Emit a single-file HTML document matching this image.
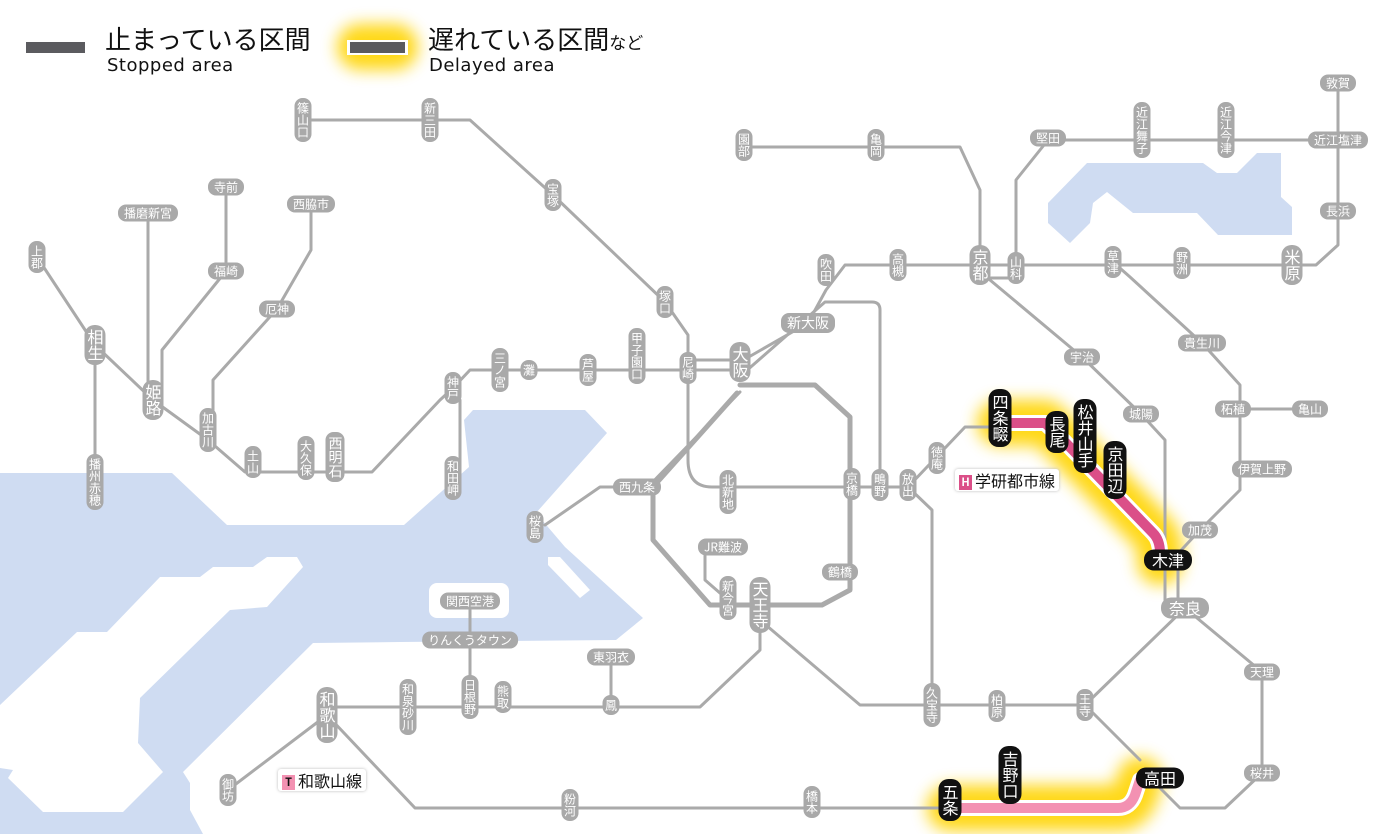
<!DOCTYPE html>
<html><head><meta charset="utf-8">
<style>
html,body{margin:0;padding:0;background:#fff;}
#w{position:relative;width:1400px;height:834px;overflow:hidden;font-family:"Liberation Sans","Noto Sans CJK JP",sans-serif;}
svg{position:absolute;left:0;top:0}
.s{position:absolute;transform:translate(-50%,-50%);background:#a9a9a9;color:#fff;font-size:12px;line-height:13px;white-space:nowrap;border-radius:8px;text-align:center;font-family:"Noto Sans CJK JP",sans-serif;}
.v{writing-mode:vertical-rl;text-orientation:upright;padding:4px 2px;}
.h{padding:2px 6px;}
.b{font-size:16px;line-height:17px;border-radius:10px;}
.k{background:#111;font-size:16px;line-height:17px;border-radius:10px;}
.k.v{padding:5px 3px}
.lg{position:absolute;font-family:"Noto Sans CJK JP",sans-serif;color:#111;white-space:nowrap}
.tag{position:absolute;background:#fff;box-shadow:0 0 3px #bbb;font-family:"Noto Sans CJK JP",sans-serif;font-size:16px;line-height:20px;padding:1px 4px;color:#111;border-radius:3px}
.tag i{display:inline-block;font-style:normal;color:#fff;font-size:11px;width:13px;height:15px;line-height:15px;text-align:center;margin-right:3px;vertical-align:1px;font-weight:bold}
</style></head><body><div id="w">
<svg width="1400" height="834" viewBox="0 0 1400 834">
<defs><filter id="bl" x="-20%" y="-20%" width="140%" height="140%"><feGaussianBlur stdDeviation="8"/></filter></defs>
<g fill="#cfdcf2">
<polygon points="0,473 172,473 227,525 404,525 469,467 464,420 473,410 585,410 607,433 536,513 565,547 643,618 616,640 400,642 313,643 183,772 190,783 190,810 203,834 0,834"/>
<polygon points="1087,163 1203,163 1217,173 1237,173 1257,153 1281,153 1281,197 1292,207 1292,235 1218,235 1197,213 1133,213 1107,192 1093,203 1090,223 1070,243 1048,223 1048,203"/>
</g>
<g fill="#fff">
<polygon points="0,705 77,632 107,632 160,577 200,577 213,567 253,567 267,557 297,557 303,567 267,607 230,610 140,698 138,743 163,772 123,812 43,812 8,778 13,770 0,768"/>
<rect x="429" y="583" width="80" height="35" rx="8"/>
<polygon points="548,557 560,557 590,590 580,598 548,565"/>
</g>
<g fill="none" stroke="#ffd400" stroke-width="46" stroke-linecap="round" stroke-linejoin="round" filter="url(#bl)" opacity="0.9">
<path d="M1000,423 H1045 L1063,440 L1153,533 Q1160,540 1160,553 V562"/>
<path d="M950,808 H1118 Q1130,808 1135,795 L1140,780"/>
<path d="M360,47 H395"/>
</g>
<g fill="none" stroke="#aaa" stroke-width="3" stroke-linejoin="round" stroke-linecap="round">
<path d="M303,120 H470 L553,195 L665,302 L688,335 V460 Q688,487 712,487 H908"/>
<path d="M37,257 L95,345 L153,400 L208,440 L245,472 H372 L440,400 L453,388 L470,370 H740"/>
<path d="M688,360 H740"/>
<path d="M453,388 L460,400 V478"/>
<path d="M95,345 V480"/>
<path d="M148,213 V400"/>
<path d="M226,187 V271 L162,350 V400"/>
<path d="M311,204 V250 L277,309 L213,380 V430"/>
<path d="M740,362 L808,323 L826,290 L845,265 H1316 L1338,245 V83"/>
<path d="M745,372 L825,302 H872 Q880,302 880,310 V487"/>
<path d="M744,147 H960 L980,190 V265"/>
<path d="M980,278 H1016"/>
<path d="M1016,268 V180 L1048,140 H1338"/>
<path d="M990,280 L1082,357 L1141,414 L1165,440 V608"/>
<path d="M1178,565 V608"/>
<path d="M1113,262 L1130,277 L1202,343 L1240,385 V490 L1200,530 L1172,560"/>
<path d="M1233,409 H1310"/>
<path d="M1185,608 L1262,672 V773 L1225,808 H1180 L1150,778"/>
<path d="M1185,608 L1085,705 L1140,760"/>
<path d="M1085,705 H860 L760,620"/>
<path d="M932,705 V510 L908,487"/>
<path d="M327,707 H700 L760,650 V605"/>
<path d="M611,657 V705"/>
<path d="M470,601 V697"/>
<path d="M327,715 L415,808 H950"/>
<path d="M327,715 L228,790"/>
<path d="M705,547 V580 L728,600"/>
<path d="M637,487 H600 L545,525"/>
<path d="M908,487 L965,427 H1000"/>
<path d="M643,492 L740,392"/>
<path d="M740,385 H815 L850,417 V590 L822,605 H710 L653,540 V487 L737,393" stroke-width="5"/>
</g>
<g fill="none" stroke-linecap="round" stroke-linejoin="round">
<path d="M1000,423 H1045 L1063,440 L1153,533 Q1160,540 1160,553 V562" stroke="#fff" stroke-width="16"/>
<path d="M1000,423 H1045 L1063,440 L1153,533 Q1160,540 1160,553 V562" stroke="#db4f88" stroke-width="10"/>
<path d="M950,808 H1118 Q1130,808 1135,795 L1140,780" stroke="#fff" stroke-width="16"/>
<path d="M950,808 H1118 Q1130,808 1135,795 L1140,780" stroke="#f391b2" stroke-width="10"/>
</g>
<rect x="26" y="42" width="59" height="11" fill="#5b5b5f"/>
<rect x="347" y="40" width="61" height="15" fill="#fff"/>
<rect x="350" y="42" width="55" height="11" fill="#5b5b5f"/>
</svg>

<div class="lg" style="left:105px;top:22px;font-size:26px;line-height:34px">止まっている区間</div>
<div class="lg" style="left:107px;top:55px;font-size:18px;line-height:21px;font-family:'DejaVu Sans',sans-serif;letter-spacing:0.5px">Stopped area</div>
<div class="lg" style="left:428px;top:22px;font-size:26px;line-height:34px">遅れている区間<span style="font-size:17px">など</span></div>
<div class="lg" style="left:429px;top:55px;font-size:18px;line-height:21px;font-family:'DejaVu Sans',sans-serif;letter-spacing:0.5px">Delayed area</div>

<div class="tag" style="left:955px;top:469px"><i style="background:#db4f88">H</i>学研都市線</div>
<div class="tag" style="left:278px;top:769px"><i style="background:#f391b2;color:#111">T</i>和歌山線</div>

<div class="s v" style="left:303px;top:120px">篠山口</div>
<div class="s v" style="left:430px;top:120px">新三田</div>
<div class="s v" style="left:553px;top:195px">宝塚</div>
<div class="s v" style="left:665px;top:302px">塚口</div>
<div class="s v" style="left:688px;top:368px">尼崎</div>
<div class="s v" style="left:637px;top:356px">甲子園口</div>
<div class="s v" style="left:588px;top:370px">芦屋</div>
<div class="s v" style="left:529px;top:370px">灘</div>
<div class="s v" style="left:500px;top:370px">三ノ宮</div>
<div class="s v" style="left:453px;top:388px">神戸</div>
<div class="s v" style="left:453px;top:478px">和田岬</div>
<div class="s v" style="left:335px;top:457px;font-size:14px;line-height:15px">西明石</div>
<div class="s v" style="left:306px;top:458px">大久保</div>
<div class="s v" style="left:253px;top:462px">土山</div>
<div class="s v" style="left:208px;top:430px">加古川</div>
<div class="s v b" style="left:153px;top:400px">姫路</div>
<div class="s v b" style="left:95px;top:345px">相生</div>
<div class="s v" style="left:37px;top:257px">上郡</div>
<div class="s v" style="left:95px;top:482px">播州赤穂</div>
<div class="s h" style="left:148px;top:213px">播磨新宮</div>
<div class="s h" style="left:226px;top:187px">寺前</div>
<div class="s h" style="left:226px;top:271px">福崎</div>
<div class="s h" style="left:311px;top:204px">西脇市</div>
<div class="s h" style="left:277px;top:309px">厄神</div>
<div class="s v b" style="left:740px;top:362px">大阪</div>
<div class="s h" style="left:808px;top:323px;font-size:14px;line-height:16px">新大阪</div>
<div class="s v" style="left:826px;top:270px">吹田</div>
<div class="s v" style="left:898px;top:265px">高槻</div>
<div class="s v" style="left:744px;top:145px">園部</div>
<div class="s v" style="left:876px;top:145px">亀岡</div>
<div class="s v b" style="left:980px;top:265px">京都</div>
<div class="s v" style="left:1016px;top:268px">山科</div>
<div class="s h" style="left:1048px;top:138px">堅田</div>
<div class="s v" style="left:1142px;top:130px">近江舞子</div>
<div class="s v" style="left:1226px;top:130px">近江今津</div>
<div class="s h" style="left:1338px;top:140px">近江塩津</div>
<div class="s h" style="left:1338px;top:83px">敦賀</div>
<div class="s h" style="left:1338px;top:211px">長浜</div>
<div class="s v b" style="left:1292px;top:265px">米原</div>
<div class="s v" style="left:1182px;top:263px">野洲</div>
<div class="s v" style="left:1113px;top:262px">草津</div>
<div class="s h" style="left:1082px;top:357px">宇治</div>
<div class="s h" style="left:1141px;top:414px">城陽</div>
<div class="s h" style="left:1202px;top:343px">貴生川</div>
<div class="s h" style="left:1233px;top:409px">柘植</div>
<div class="s h" style="left:1310px;top:409px">亀山</div>
<div class="s h" style="left:1262px;top:469px">伊賀上野</div>
<div class="s h" style="left:1200px;top:530px">加茂</div>
<div class="s h b" style="left:1185px;top:608px;padding:2px 8px">奈良</div>
<div class="s h" style="left:1262px;top:672px">天理</div>
<div class="s h" style="left:1262px;top:773px">桜井</div>
<div class="s v" style="left:1085px;top:705px">王寺</div>
<div class="s v" style="left:997px;top:706px">柏原</div>
<div class="s v" style="left:932px;top:705px">久宝寺</div>
<div class="s v" style="left:812px;top:802px">橋本</div>
<div class="s v" style="left:570px;top:805px">粉河</div>
<div class="s v" style="left:228px;top:790px">御坊</div>
<div class="s v b" style="left:327px;top:715px">和歌山</div>
<div class="s v" style="left:408px;top:707px">和泉砂川</div>
<div class="s v" style="left:470px;top:697px">日根野</div>
<div class="s v" style="left:503px;top:697px">熊取</div>
<div class="s v" style="left:611px;top:705px">鳳</div>
<div class="s h" style="left:611px;top:657px">東羽衣</div>
<div class="s h" style="left:470px;top:640px">りんくうタウン</div>
<div class="s h" style="left:470px;top:601px">関西空港</div>
<div class="s v b" style="left:760px;top:605px">天王寺</div>
<div class="s v" style="left:728px;top:598px">新今宮</div>
<div class="s h" style="left:723px;top:547px">JR難波</div>
<div class="s h" style="left:840px;top:572px">鶴橋</div>
<div class="s v" style="left:852px;top:484px">京橋</div>
<div class="s v" style="left:880px;top:485px">鴫野</div>
<div class="s v" style="left:908px;top:485px">放出</div>
<div class="s v" style="left:937px;top:458px">徳庵</div>
<div class="s v" style="left:728px;top:492px">北新地</div>
<div class="s h" style="left:637px;top:487px">西九条</div>
<div class="s v" style="left:535px;top:527px">桜島</div>

<div class="s v k" style="left:1000px;top:418px">四条畷</div>
<div class="s v k" style="left:1057px;top:432px">長尾</div>
<div class="s v k" style="left:1085px;top:436px">松井山手</div>
<div class="s v k" style="left:1115px;top:470px">京田辺</div>
<div class="s h k" style="left:1168px;top:560px;padding:2px 8px">木津</div>
<div class="s h k" style="left:1160px;top:778px;padding:2px 8px">高田</div>
<div class="s v k" style="left:1010px;top:775px">吉野口</div>
<div class="s v k" style="left:950px;top:800px">五条</div>
</div></body></html>
